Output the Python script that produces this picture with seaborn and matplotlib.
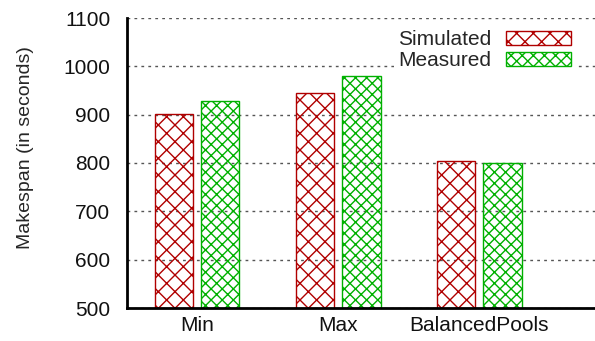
import matplotlib
matplotlib.use("Agg")
import matplotlib.pyplot as plt
import seaborn as sns
import pandas as pd

categories = ["Min", "Max", "BalancedPools"]
series = ["Simulated", "Measured"]
simulated = [902, 945, 804]
measured = [928, 980, 800]
yticks = [500, 600, 700, 800, 900, 1000, 1100]

df = pd.DataFrame({
    "cat": categories * 2,
    "series": [series[0]] * 3 + [series[1]] * 3,
    "value": simulated + measured,
})

sns.set_theme(style="white")
plt.rcParams["font.family"] = ["Liberation Sans", "DejaVu Sans"]
plt.rcParams["hatch.linewidth"] = 1.0

fig = plt.figure(figsize=(5.95, 3.41), dpi=100)
ax = fig.add_axes([127 / 595, 1 - 308 / 341, 1 - 127 / 595, 290 / 341])

colors = {"Simulated": "#b00000", "Measured": "#00b000"}
sns.barplot(data=df, x="cat", y="value", hue="series", order=categories,
            hue_order=series, palette=colors, fill=False, width=0.66, gap=0.18,
            linewidth=1.0, ax=ax, legend=False)

hatches = ["xx", "xxx"]
for cont, h in zip(ax.containers, hatches):
    for p in cont.patches:
        p.set_hatch(h)

fs = 15
ax.set_ylim(500, 1100)
ax.set_xlim(-0.496, 2.82)
ax.set_yticks(yticks)
ax.set_yticklabels([str(t) for t in yticks])
ax.yaxis.grid(True, linestyle=(0, (2, 3)), color="#555555", linewidth=1.0)
ax.set_axisbelow(True)
ax.tick_params(axis="both", length=0, labelsize=fs, colors="#111111")
ax.tick_params(axis="x", pad=6)
ax.tick_params(axis="y", pad=12)
ax.set_xlabel("")
ax.set_ylabel("Makespan (in seconds)", fontsize=14)
ax.yaxis.set_label_coords(-0.198, 0.552)
for s in ["top", "right"]:
    ax.spines[s].set_visible(False)
for s in ["left", "bottom"]:
    ax.spines[s].set_color("black")
    ax.spines[s].set_linewidth(2)

handles = [ax.containers[0].patches[0], ax.containers[1].patches[0]]
leg = ax.legend(handles=handles, labels=series, loc="upper right", markerfirst=False,
                frameon=True, fontsize=fs, handlelength=3.1, handleheight=0.6,
                handletextpad=0.7, labelspacing=0.1, borderaxespad=0.0,
                borderpad=0.2, bbox_to_anchor=(0.957, 0.972), fancybox=False)
leg.get_frame().set_facecolor("white")
leg.get_frame().set_edgecolor("none")
leg.get_frame().set_alpha(1)

fig.savefig("out.png", dpi=100)
